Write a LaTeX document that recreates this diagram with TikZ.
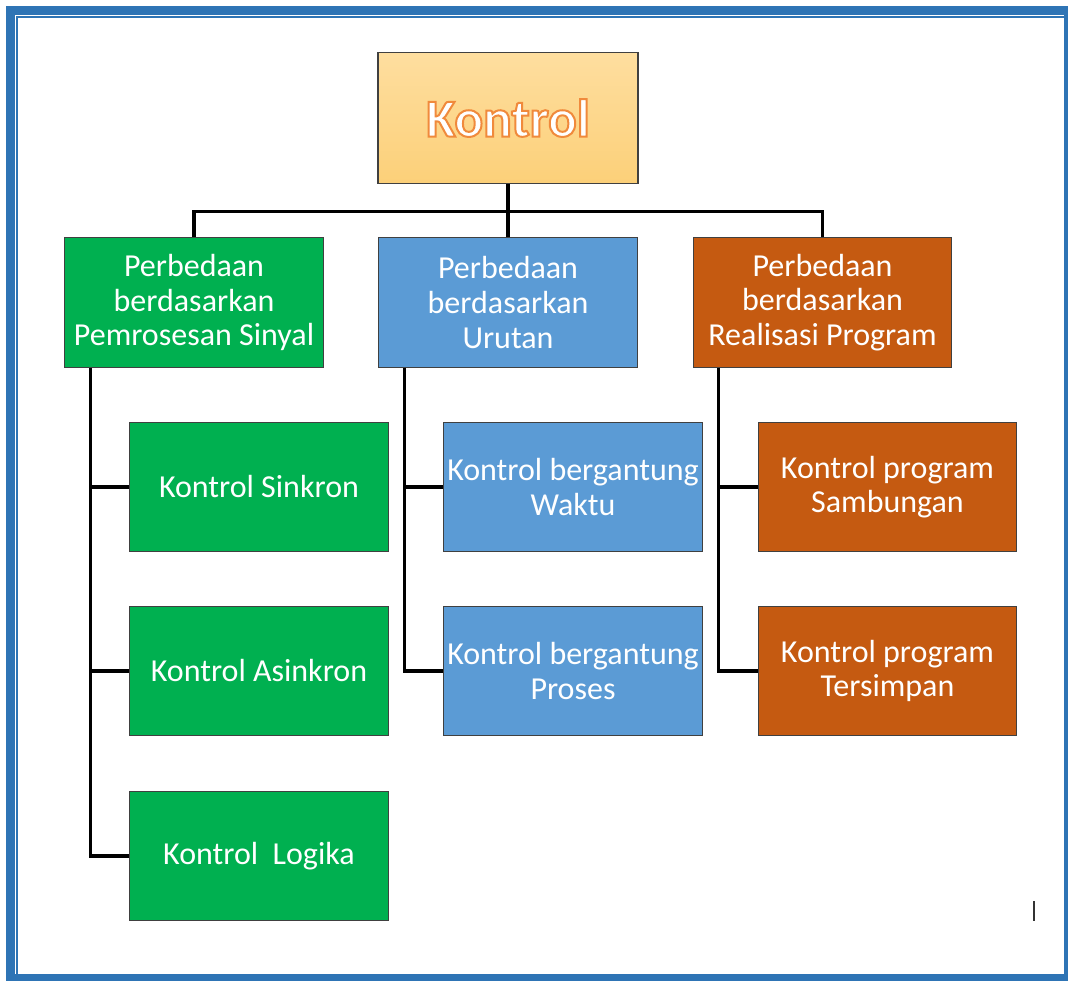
\documentclass[tikz,border=0pt]{standalone}
\usepackage{fontspec}
\setmainfont{Carlito}
\usetikzlibrary{positioning}
\definecolor{hijau}{HTML}{00B050}
\definecolor{biru}{HTML}{5B9BD5}
\definecolor{oranye}{HTML}{C55A11}
\definecolor{bingkai}{HTML}{2E74B5}
\definecolor{judulatas}{HTML}{FEDE9F}
\definecolor{judulbawah}{HTML}{FCD079}
\newcommand{\garisteks}[1]{\special{pdf:literal direct 2 Tr 1.5 w 0.941 0.541 0.235 RG}#1\special{pdf:literal direct 0 Tr}}
\tikzset{kotak/.style={draw=black!75, line width=0.8pt, minimum width=194pt, minimum height=97pt, inner sep=0pt, text=white, align=center, font=\fontsize{24}{26}\selectfont}}
\tikzset{kotakhijau/.style={kotak, fill=hijau}}
\tikzset{kotakbiru/.style={kotak, fill=biru}}
\tikzset{kotakoranye/.style={kotak, fill=oranye}}
\tikzset{cabang/.style={draw, line width=2.3pt}}

\begin{document}
\begin{tikzpicture}[x=0.75pt,y=-0.75pt]
    \useasboundingbox (0,0) rectangle (1068,981);
    % bingkai halaman
    \fill[bingkai] (6,6) rectangle (1068,981);
    \fill[white] (15,15) rectangle (1064,974);
    \draw[bingkai, line width=1.5pt] (17,974) -- (17,17) -- (1064,17);

    \node[kotak, top color=judulatas, bottom color=judulbawah, minimum width=195pt, minimum height=98pt,
        font=\fontsize{40}{48}\selectfont\bfseries] (kontrol) at (508,118) {\garisteks{Kontrol}};

    \node[kotakhijau] (sinyal) at (194,302.5) {Perbedaan\\berdasarkan\\Pemrosesan Sinyal};
    \node[kotakbiru] (urutan) at (508,302.5) {Perbedaan\\berdasarkan\\Urutan};
    \node[kotakoranye] (program) at (822.5,302.5) {Perbedaan\\berdasarkan\\Realisasi Program};

    \node[kotakhijau] (sinkron) at (259,487) {Kontrol Sinkron};
    \node[kotakhijau] (asinkron) at (259,671) {Kontrol Asinkron};
    \node[kotakhijau] (logika) at (259,856) {Kontrol\ \ Logika};
    \node[kotakbiru] (waktu) at (573,487) {Kontrol bergantung\\Waktu};
    \node[kotakbiru] (proses) at (573,671) {Kontrol bergantung\\Proses};
    \node[kotakoranye] (sambungan) at (887.5,487) {Kontrol program\\Sambungan};
    \node[kotakoranye] (tersimpan) at (887.5,671) {Kontrol program\\Tersimpan};

    % garis pohon atas
    \draw[cabang] (kontrol.south) -- ++(0,28) coordinate (bagi);
    \draw[cabang] (sinyal.north) |- (bagi) -| (program.north);
    \draw[cabang] (bagi) -- (urutan.north);

    % garis cabang bawah
    \coordinate (s1) at ([xshift=19.5pt]sinyal.south west);
    \coordinate (s2) at ([xshift=19.5pt]urutan.south west);
    \coordinate (s3) at ([xshift=19.5pt]program.south west);
    \draw[cabang] (s1) |- (logika.west);
    \draw[cabang] (sinkron.west) -- (sinkron.west -| s1);
    \draw[cabang] (asinkron.west) -- (asinkron.west -| s1);
    \draw[cabang] (s2) |- (proses.west);
    \draw[cabang] (waktu.west) -- (waktu.west -| s2);
    \draw[cabang] (s3) |- (tersimpan.west);
    \draw[cabang] (sambungan.west) -- (sambungan.west -| s3);

    \draw[line width=1.2pt, black!80] (1034,901) -- (1034,921);
\end{tikzpicture}
\end{document}
